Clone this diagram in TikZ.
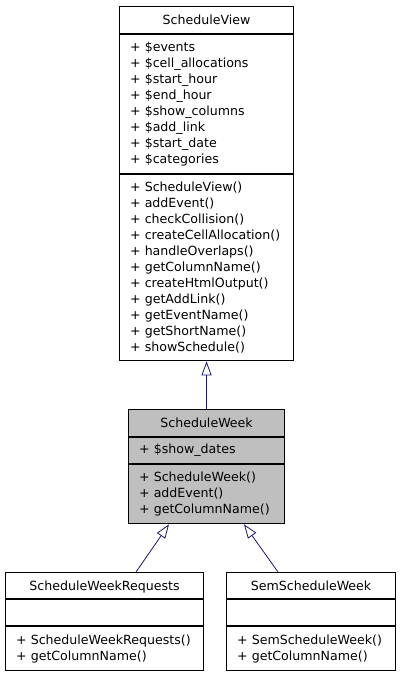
\documentclass[tikz,border=0pt]{standalone}
\usepackage{fontspec}
\setmainfont{DejaVu Sans}
\usetikzlibrary{arrows.meta}
\begin{document}
\begin{tikzpicture}[x=1pt,y=-1pt,
  txt/.style={font=\fontsize{12.6}{16}\selectfont},
  part/.style={draw=black, line width=1.1pt, inner sep=0pt, anchor=north west, txt},
  title/.style={part, text height=9pt, text depth=0pt},
  list/.style={inner sep=0pt, align=left, anchor=west, xshift=11pt, txt},
  grey/.style={fill=black!25},
  inherit/.style={draw=midnightblue, line width=0.8pt, -{Triangle[open, length=14pt, width=10pt, fill=white]}}
]
\definecolor{midnightblue}{RGB}{25,25,112}
\useasboundingbox (0,0) rectangle (400,675);
% ScheduleView
\node[title, minimum width=174, minimum height=27] (svT) at (119,6) {ScheduleView};
\node[part, minimum width=174, minimum height=139] (svA) at (svT.south west) {};
\node[list] (svAt) at (svA.west) {+ \$events\\+ \$cell\_allocations\\+ \$start\_hour\\+ \$end\_hour\\+ \$show\_columns\\+ \$add\_link\\+ \$start\_date\\+ \$categories};
\node[part, minimum width=174, minimum height=186] (svM) at (svA.south west) {};
\node[list] (svMt) at (svM.west) {+ ScheduleView()\\+ addEvent()\\+ checkCollision()\\+ createCellAllocation()\\+ handleOverlaps()\\+ getColumnName()\\+ createHtmlOutput()\\+ getAddLink()\\+ getEventName()\\+ getShortName()\\+ showSchedule()};
% ScheduleWeek
\node[title, grey, minimum width=156, minimum height=27] (swT) at (128,409) {ScheduleWeek};
\node[part, grey, minimum width=156, minimum height=26] (swA) at (swT.south west) {};
\node[list] (swAt) at (swA.west) {+ \$show\_dates};
\node[part, grey, minimum width=156, minimum height=59] (swM) at (swA.south west) {};
\node[list] (swMt) at (swM.west) {+ ScheduleWeek()\\+ addEvent()\\+ getColumnName()};
% ScheduleWeekRequests
\node[title, minimum width=198, minimum height=26] (swrT) at (5,572) {ScheduleWeekRequests};
\node[part, minimum width=198, minimum height=26] (swrA) at (swrT.south west) {};
\node[part, minimum width=198, minimum height=44] (swrM) at (swrA.south west) {};
\node[list] (swrMt) at (swrM.west) {+ ScheduleWeekRequests()\\+ getColumnName()};
% SemScheduleWeek
\node[title, minimum width=169, minimum height=26] (sswT) at (226,572) {SemScheduleWeek};
\node[part, minimum width=169, minimum height=26] (sswA) at (sswT.south west) {};
\node[part, minimum width=169, minimum height=44] (sswM) at (sswA.south west) {};
\node[list] (sswMt) at (sswM.west) {+ SemScheduleWeek()\\+ getColumnName()};
% connectors
\coordinate (swrIn) at ([xshift=131pt]swrT.north west);
\coordinate (swOutL) at ([xshift=41pt]swM.south west);
\coordinate (sswIn) at ([xshift=52pt]sswT.north west);
\coordinate (swOutR) at ([xshift=116pt]swM.south west);
\draw[inherit] (swT.north) -- (svM.south);
\draw[inherit] (swrIn) -- (swOutL);
\draw[inherit] (sswIn) -- (swOutR);
\end{tikzpicture}
\end{document}
